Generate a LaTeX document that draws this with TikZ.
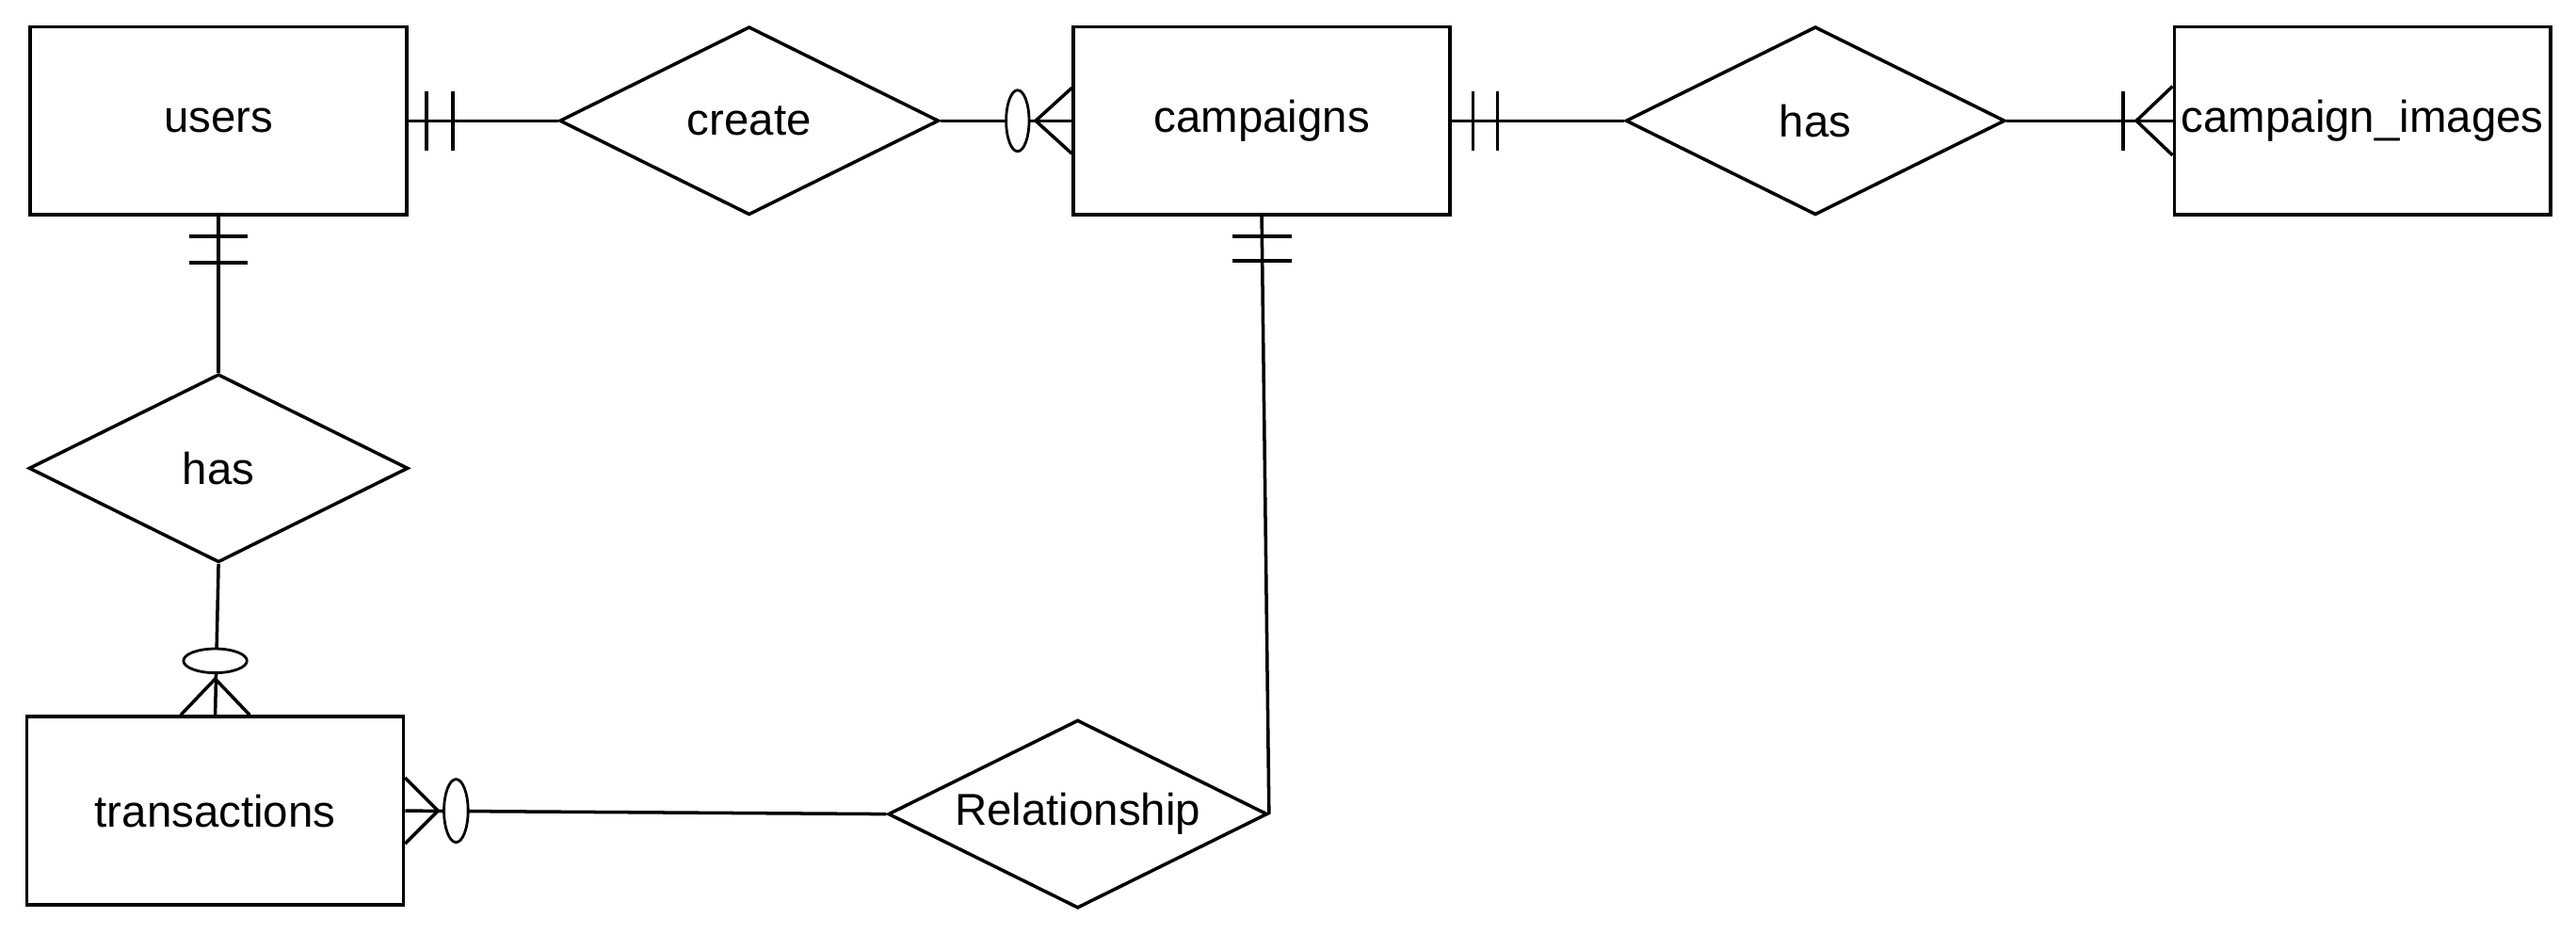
\documentclass[tikz,border=0pt]{standalone}
\usepackage{fontspec}
\setmainfont{Liberation Sans}
\usetikzlibrary{shapes.geometric,calc}

\tikzset{
    entity/.style={draw, line width=1pt, rectangle, minimum width=4cm, minimum height=2cm, inner sep=0pt},
    relation/.style={draw, line width=1pt, diamond, aspect=2, minimum width=4.03cm, minimum height=2cm, inner sep=0pt},
    link/.style={line width=1pt},
    oval/.style={draw, line width=0.8pt, fill=white}
}

\begin{document}
\begin{tikzpicture}[x=0.01745cm, y=-0.01745cm, font=\fontsize{13.5}{16}\selectfont]
    \useasboundingbox (0,0) rectangle (1568,568);

    % Entities
    \node[entity] (users) at (133,73.5) {users};
    \node[entity] (campaigns) at (768,73.5) {campaigns};
    \node[entity] (images) at (1438,73.5) {campaign\_images};
    \node[entity] (transactions) at (131,493.5) {transactions};

    % Relationships
    \node[relation] (create) at (456,73.5) {create};
    \node[relation] (hasimg) at (1105,73.5) {has};
    \node[relation] (hastx) at (133,285) {has};
    \node[relation] (rel) at (656,495.5) {Relationship};

    % users -- create (one and only one)
    \draw[link] (users.east) -- (create.west);
    \draw[link] ($(users.east)+(11,-18)$) -- ++(0,36);
    \draw[link] ($(users.east)+(27,-18)$) -- ++(0,36);

    % create -- campaigns (zero or many)
    \draw[link] (create.east) -- (campaigns.west);
    \draw[link] ($(campaigns.west)+(0,-20)$) -- ($(campaigns.west)+(-22,0)$) -- ($(campaigns.west)+(0,20)$);
    \draw[oval] ($(campaigns.west)+(-33,0)$) ellipse [x radius=0.122cm, y radius=0.325cm];

    % campaigns -- has (one and only one)
    \draw[link] (campaigns.east) -- (hasimg.west);
    \draw[link] ($(campaigns.east)+(13,-18)$) -- ++(0,36);
    \draw[link] ($(campaigns.east)+(28,-18)$) -- ++(0,36);

    % has -- campaign_images (one or many)
    \draw[link] (hasimg.east) -- (images.west);
    \draw[link] ($(images.west)+(0,-21)$) -- ($(images.west)+(-22,0)$) -- ($(images.west)+(0,21)$);
    \draw[link] ($(images.west)+(-30,-18)$) -- ++(0,36);

    % users -- has (one and only one)
    \draw[link] (users.south) -- (hastx.north);
    \draw[link] ($(users.south)+(-18,12)$) -- ++(36,0);
    \draw[link] ($(users.south)+(-18,28)$) -- ++(36,0);

    % has -- transactions (zero or many)
    \draw[link] (hastx.south) -- (transactions.north);
    \draw[link] ($(transactions.north)+(-21,0)$) -- ($(transactions.north)+(0,-22)$) -- ($(transactions.north)+(21,0)$);
    \draw[oval] ($(transactions.north)+(0,-33)$) ellipse [x radius=0.337cm, y radius=0.128cm];

    % transactions -- Relationship (zero or many)
    \draw[link] (transactions.east) -- (rel.west);
    \draw[link] ($(transactions.east)+(0,-20)$) -- ($(transactions.east)+(20,0)$) -- ($(transactions.east)+(0,20)$);
    \draw[oval] ($(transactions.east)+(31,0)$) ellipse [x radius=0.128cm, y radius=0.335cm];

    % campaigns -- Relationship (one and only one)
    \draw[link] (campaigns.south) -- (rel.east);
    \draw[link] ($(campaigns.south)+(-18,12)$) -- ++(36,0);
    \draw[link] ($(campaigns.south)+(-18,27)$) -- ++(36,0);
\end{tikzpicture}
\end{document}
